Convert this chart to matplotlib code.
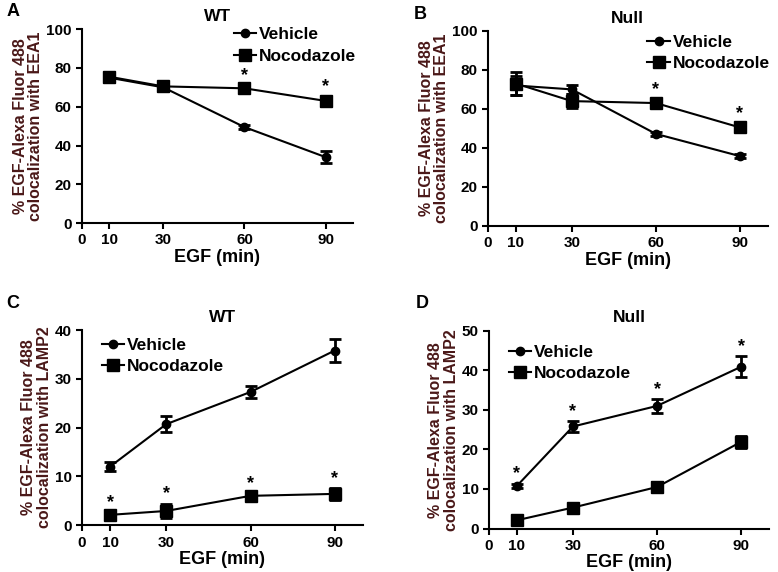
import numpy as np
import matplotlib.pyplot as plt
from matplotlib.lines import Line2D

plt.rcParams['font.family'] = ['Liberation Sans', 'DejaVu Sans']
plt.rcParams['font.weight'] = 'bold'
plt.rcParams['axes.labelweight'] = 'bold'
plt.rcParams['axes.titleweight'] = 'bold'

times = [10, 30, 60, 90]
xticks = [0, 10, 30, 60, 90]

# panel A: WT, EEA1
a_veh = [75, 70, 49.5, 34]
a_veh_err = [1.5, 1.5, 1.2, 3]
a_noc = [75.5, 70.5, 69.5, 63]
a_noc_err = [2.5, 2.5, 1.5, 2.5]
a_stars = [60, 90]

# panel B: Null, EEA1
b_veh = [72, 70, 47.2, 35.8]
b_veh_err = [5, 2.5, 1, 1]
b_noc = [73, 64, 63, 50.5]
b_noc_err = [6, 3.5, 2, 2]
b_stars = [60, 90]

# panel C: WT, LAMP2
c_veh = [12, 20.7, 27.3, 35.8]
c_veh_err = [1, 1.6, 1.3, 2.3]
c_noc = [2.1, 2.9, 6.0, 6.4]
c_noc_err = [0.5, 1.5, 0.5, 1.2]
c_stars = [10, 30, 60, 90]

# panel D: Null, LAMP2
d_veh = [10.8, 25.8, 31.0, 40.9]
d_veh_err = [0.5, 1.3, 1.7, 2.6]
d_noc = [2.1, 5.3, 10.5, 21.9]
d_noc_err = [0.5, 0.5, 1.2, 1.6]
d_stars = [10, 30, 60, 90]

ylab_color = '#4a1818'

fig = plt.figure(figsize=(7.78, 5.72), dpi=100)


def panel(rect, veh, veh_err, noc, noc_err, stars, star_on, ymax, ystep,
          title, letter, marker_txt, ylabel, leg_pos):
    ax = fig.add_axes(rect)
    ax.errorbar(times, veh, yerr=veh_err, color='black', marker='o', ms=6,
                lw=1.5, elinewidth=2, capsize=4, capthick=2)
    ax.errorbar(times, noc, yerr=noc_err, color='black', marker='s', ms=8,
                lw=1.5, elinewidth=2, capsize=4, capthick=2)
    ys = veh if star_on == 'veh' else noc
    es = veh_err if star_on == 'veh' else noc_err
    for t, y, e in zip(times, ys, es):
        if t in stars:
            ax.annotate('*', (t, y + e), xytext=(0, 1), textcoords='offset points',
                        ha='center', va='bottom', fontsize=13)
    ax.set_xlim(0, 100)
    ax.set_ylim(0, ymax)
    ax.set_xticks(xticks)
    ax.set_yticks(np.arange(0, ymax + 1, ystep))
    ax.tick_params(labelsize=11, width=1.5, length=4)
    for s in ['top', 'right']:
        ax.spines[s].set_visible(False)
    for s in ['left', 'bottom']:
        ax.spines[s].set_linewidth(1.5)
    ax.set_xlabel('EGF (min)', fontsize=13, labelpad=1)
    ax.set_ylabel('% EGF-Alexa Fluor 488\ncolocalization with ' + ylabel,
                  fontsize=11.5, color=ylab_color, linespacing=1.05, labelpad=2)
    ax.set_title(title, fontsize=12.5, pad=6)
    handles = [Line2D([], [], color='black', marker='o', ms=6, lw=1.5),
               Line2D([], [], color='black', marker='s', ms=8, lw=1.5)]
    ax.legend(handles, ['Vehicle', 'Nocodazole'], loc='upper left',
              bbox_to_anchor=leg_pos, frameon=False, fontsize=12.5,
              handlelength=1.3, handletextpad=0.15, labelspacing=0.35,
              borderpad=0, borderaxespad=0)
    fig.text(letter[0], letter[1], marker_txt, fontsize=13, ha='left', va='top')
    return ax


panel([0.1054, 0.610, 0.348, 0.339], a_veh, a_veh_err, a_noc, a_noc_err,
      a_stars, 'noc', 100, 20, 'WT', (0.008, 0.995), 'A', 'EEA1', (0.56, 1.01))
panel([0.627, 0.605, 0.36, 0.341], b_veh, b_veh_err, b_noc, b_noc_err,
      b_stars, 'noc', 100, 20, 'Null', (0.532, 0.99), 'B', 'EEA1', (0.57, 0.98))
panel([0.1054, 0.082, 0.361, 0.341], c_veh, c_veh_err, c_noc, c_noc_err,
      c_stars, 'noc', 40, 10, 'WT', (0.008, 0.485), 'C', 'LAMP2', (0.07, 0.96))
panel([0.6285, 0.076, 0.36, 0.3457], d_veh, d_veh_err, d_noc, d_noc_err,
      d_stars, 'veh', 50, 10, 'Null', (0.535, 0.485), 'D', 'LAMP2', (0.07, 0.93))

fig.savefig('out.png', dpi=100)
